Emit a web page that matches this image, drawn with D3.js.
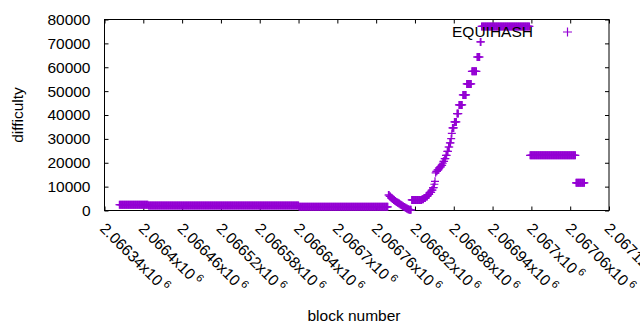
<!DOCTYPE html>
<html>
<head>
<meta charset="utf-8">
<script src="https://cdn.jsdelivr.net/npm/d3@7"></script>
<style>
  body { margin: 0; background: #fff; }
  text { font-family: "Liberation Sans", Arial, sans-serif; }
</style>
</head>
<body>
<svg id="chart" width="640" height="330"></svg>
<script>
// difficulty steps: each one holds from its first block until the next step starts
const stepBlock = [
  2066363, 2066408, 2066641,
  2066779, 2066781, 2066783, 2066785, 2066787, 2066789, 2066791, 2066793,
  2066795, 2066797, 2066799, 2066801, 2066803, 2066805, 2066807, 2066809, 2066811,
  2066815, 2066831, 2066834, 2066837, 2066840, 2066843, 2066846, 2066848,
  2066850, 2066851, 2066852, 2066853, 2066855, 2066857, 2066859, 2066861,
  2066863, 2066864, 2066866, 2066868, 2066870, 2066872, 2066874, 2066876,
  2066877, 2066878, 2066881, 2066885, 2066888, 2066894, 2066900, 2066908,
  2066916, 2066921, 2066923, 2066998, 2067069
]
const stepDifficulty = [
  2400, 2050, 1550,
  6500, 5900, 5300, 4800, 4400, 4000, 3600, 3200,
  2900, 2500, 2200, 1800, 1500, 1150, 850, 550, 300,
  4450, 4700, 5200, 5900, 6700, 7600, 8500, 9600,
  11000, 12200, 15800, 16400, 17000, 17800, 18300, 18900,
  19800, 20600, 21700, 23100, 24800, 26600, 28300, 30100,
  32300, 34600, 37100, 40600, 44200, 48400, 53000, 58300,
  64300, 70600, 77100, 23100, 11600
]
const lastBlock = 2067082

const xTicks = [2066340, 2066400, 2066460, 2066520, 2066580, 2066640, 2066700,
  2066760, 2066820, 2066880, 2066940, 2067000, 2067060, 2067120]
const yTicks = [0, 10000, 20000, 30000, 40000, 50000, 60000, 70000, 80000]
const seriesName = 'EQUIHASH'

const color = '#9400d3'
const font = 15.5
const margin = { top: 19.5, right: 31, bottom: 119.5, left: 104.5 }
const width = 640 - margin.left - margin.right
const height = 330 - margin.top - margin.bottom

// one point per block
const points = []
stepBlock.forEach((start, i) => {
  const end = i < stepBlock.length - 1 ? stepBlock[i + 1] - 1 : lastBlock
  for (let b = start; b <= end; b++) points.push({ block: b, difficulty: stepDifficulty[i] })
})

const svg = d3.select('#chart')
const g = svg.append('g').attr('transform', `translate(${margin.left},${margin.top})`)

const x = d3.scaleLinear().domain([xTicks[0], xTicks[xTicks.length - 1]]).range([0, width])
const y = d3.scaleLinear().domain([0, 80000]).range([height, 0])

function styleAxis(sel) {
  sel.attr('font-family', null).attr('font-size', null)
  sel.select('.domain').remove()
  sel.selectAll('line').attr('stroke', '#000')
}

// left axis with labels
g.append('g')
  .call(d3.axisLeft(y).tickValues(yTicks).tickFormat(d3.format('d'))
    .tickSizeInner(-4).tickSizeOuter(0).tickPadding(14))
  .call(styleAxis)
  .selectAll('text')
  .attr('font-size', font)
  .attr('fill', '#000')

// mirrored right / top axes
g.append('g').attr('transform', `translate(${width},0)`)
  .call(d3.axisRight(y).tickValues(yTicks).tickSizeInner(-4).tickSizeOuter(0).tickFormat(''))
  .call(styleAxis)
g.append('g')
  .call(d3.axisTop(x).tickValues(xTicks).tickSizeInner(-4).tickSizeOuter(0).tickFormat(''))
  .call(styleAxis)

// bottom axis, rotated gnuplot style labels
const mant = d3.format('.6~g')
const bottom = g.append('g').attr('transform', `translate(0,${height})`)
  .call(d3.axisBottom(x).tickValues(xTicks).tickSizeInner(-4).tickSizeOuter(0).tickFormat(''))
  .call(styleAxis)
bottom.selectAll('.tick').each(function (d) {
  const t = d3.select(this).append('text')
    .attr('transform', 'translate(-6,19) rotate(45)')
    .attr('text-anchor', 'start')
    .attr('font-size', font)
    .attr('fill', '#000')
  t.append('tspan').text(mant(d / 1e6) + 'x10')
  t.append('tspan').attr('font-size', 11).attr('dx', 3).attr('dy', -6).text('6')
})

// frame
g.append('rect')
  .attr('width', width).attr('height', height)
  .attr('fill', 'none').attr('stroke', '#000').attr('stroke-width', 1)

// axis titles
svg.append('text')
  .attr('transform', `translate(22.5,${margin.top + height / 2}) rotate(-90)`)
  .attr('text-anchor', 'middle')
  .attr('font-size', font)
  .text('difficulty')
svg.append('text')
  .attr('x', 354).attr('y', 321)
  .attr('text-anchor', 'middle')
  .attr('font-size', font)
  .text('block number')

// key
svg.append('text')
  .attr('x', 533).attr('y', 37)
  .attr('text-anchor', 'end')
  .attr('font-size', font)
  .text(seriesName)
svg.append('path')
  .attr('transform', 'translate(567.5,32)')
  .attr('d', 'M-4.5,0H4.5M0,-4.5V4.5')
  .attr('stroke', color).attr('stroke-width', 1.2)

// points
g.append('g')
  .selectAll('path')
  .data(points)
  .join('path')
  .attr('transform', d => `translate(${x(d.block)},${y(d.difficulty)})`)
  .attr('d', 'M-4,0H4M0,-4V4')
  .attr('fill', 'none')
  .attr('stroke', color)
  .attr('stroke-width', 1.2)
</script>
</body>
</html>
